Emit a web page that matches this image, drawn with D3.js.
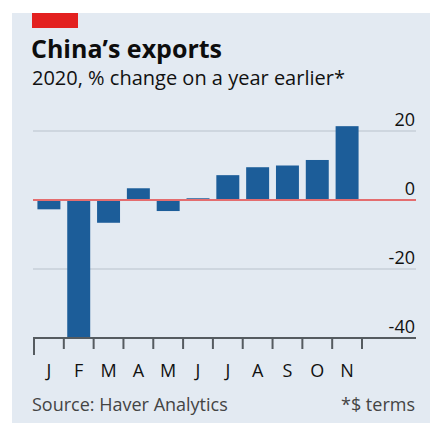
<!DOCTYPE html>
<html>
<head>
<meta charset="utf-8">
<script src="https://cdn.jsdelivr.net/npm/d3@7"></script>
<style>
  html, body { margin: 0; padding: 0; background: #ffffff; }
  svg { display: block; }
</style>
</head>
<body>
<svg id="chart" width="430" height="425"></svg>
<script>
// China's monthly exports, 2020, % change on a year earlier
const months = ["J", "F", "M", "A", "M", "J", "J", "A", "S", "O", "N"];
const values = [-2.7, -40, -6.6, 3.4, -3.2, 0.5, 7.2, 9.5, 10.0, 11.6, 21.4];
const yTicks = [20, 0, -20, -40];

const svg = d3.select("#chart");
const font = "'Open Sans', 'Noto Sans', sans-serif";

// Panel background
svg.append("rect")
  .attr("x", 12).attr("y", 13)
  .attr("width", 418).attr("height", 410)
  .attr("fill", "#e3eaf2");

// Red tag
svg.append("rect")
  .attr("x", 32).attr("y", 13)
  .attr("width", 46).attr("height", 15)
  .attr("fill", "#e3201f");

svg.append("text")
  .attr("x", 31).attr("y", 58)
  .attr("font-family", font).attr("font-weight", 700)
  .attr("font-size", 25).attr("fill", "#0d0d0d")
  .text("China’s exports");

svg.append("text")
  .attr("x", 32).attr("y", 85)
  .attr("font-family", font)
  .attr("font-size", 20).attr("fill", "#111")
  .text("2020, % change on a year earlier*");

const x = d3.scaleBand()
  .domain(d3.range(months.length))
  .range([34, 362])
  .paddingInner(0.23)
  .paddingOuter(0.115);

const y = d3.scaleLinear()
  .domain([-40, 20])
  .range([338, 131]);

// Horizontal gridlines
svg.append("g")
  .selectAll("line")
  .data(yTicks.filter(d => d !== 0 && d !== -40))
  .join("line")
  .attr("x1", 33).attr("x2", 416)
  .attr("y1", d => y(d)).attr("y2", d => y(d))
  .attr("stroke", "#b9c2cb").attr("stroke-width", 1.2);

// Tick labels, right aligned
svg.append("g")
  .selectAll("text")
  .data(yTicks)
  .join("text")
  .attr("x", 415)
  .attr("y", d => y(d) - 5)
  .attr("text-anchor", "end")
  .attr("font-family", font)
  .attr("font-size", 18).attr("fill", "#111")
  .text(d => d);

// Bars
svg.append("g")
  .selectAll("rect")
  .data(values)
  .join("rect")
  .attr("x", (d, i) => x(i))
  .attr("width", x.bandwidth())
  .attr("y", d => y(Math.max(0, d)))
  .attr("height", d => Math.abs(y(d) - y(0)))
  .attr("fill", "#1c5d99");

// Zero line
svg.append("line")
  .attr("x1", 33).attr("x2", 416)
  .attr("y1", y(0)).attr("y2", y(0))
  .attr("stroke", "#e46d6f").attr("stroke-width", 2);

// Bottom axis line
svg.append("line")
  .attr("x1", 33).attr("x2", 416)
  .attr("y1", y(-40)).attr("y2", y(-40))
  .attr("stroke", "#555b60").attr("stroke-width", 2);

// Month boundary ticks
const step = x.step();
const boundaries = d3.range(months.length + 1).map(i => x(0) - step * x.paddingOuter() + i * step);
svg.append("g")
  .selectAll("line")
  .data(boundaries)
  .join("line")
  .attr("x1", d => d).attr("x2", d => d)
  .attr("y1", y(-40))
  .attr("y2", (d, i) => i === 0 ? 355 : 349)
  .attr("stroke", "#555b60").attr("stroke-width", 2);

// Month labels
svg.append("g")
  .selectAll("text")
  .data(months)
  .join("text")
  .attr("x", (d, i) => x(i) + x.bandwidth() / 2)
  .attr("y", 377)
  .attr("text-anchor", "middle")
  .attr("font-family", font)
  .attr("font-size", 18).attr("fill", "#111")
  .text(d => d);

svg.append("text")
  .attr("x", 32).attr("y", 411)
  .attr("font-family", font)
  .attr("font-size", 18).attr("fill", "#444")
  .text("Source: Haver Analytics");

svg.append("text")
  .attr("x", 415).attr("y", 411)
  .attr("text-anchor", "end")
  .attr("font-family", font)
  .attr("font-size", 18).attr("fill", "#444")
  .text("*$ terms");
</script>
</body>
</html>
